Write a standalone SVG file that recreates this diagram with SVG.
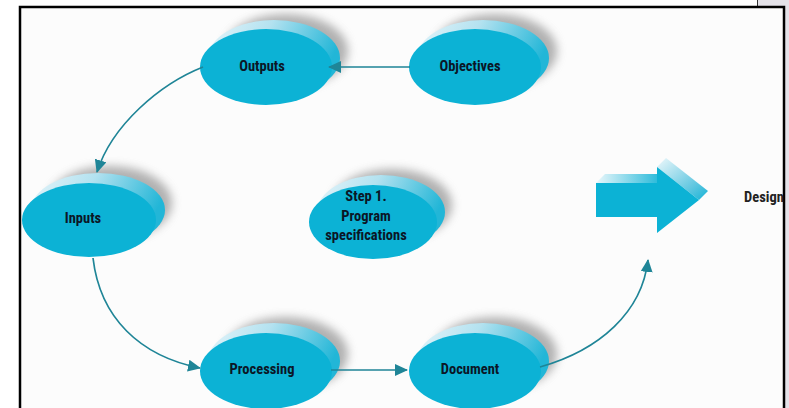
<svg xmlns="http://www.w3.org/2000/svg" width="789" height="408" viewBox="0 0 789 408">
<defs>
<style>
.front{fill:#0cb2d5;}
.back{fill:url(#backGrad);}
.shadow{fill:#7f7f7f;opacity:0.6;filter:url(#blur);}
.lbl{font-family:"Liberation Sans Narrow","Roboto Condensed","Liberation Sans",Arial,sans-serif;font-weight:bold;font-size:14.5px;fill:#0b1626;text-anchor:middle;dominant-baseline:central;}
.conn{fill:none;stroke:#1f8597;stroke-width:1.7;marker-end:url(#ah);}
.frame{stroke:#000;stroke-width:2.5;fill:none;}
</style>
<linearGradient id="backGrad" x1="0" y1="0" x2="1" y2="0.3">
<stop offset="0" stop-color="#e6f5fa"/>
<stop offset="0.45" stop-color="#b4e2f0"/>
<stop offset="1" stop-color="#22b6d7"/>
</linearGradient>
<linearGradient id="shaftGrad" x1="0" y1="0" x2="1" y2="0">
<stop offset="0" stop-color="#eaf7fb"/>
<stop offset="1" stop-color="#14b3d6"/>
</linearGradient>
<linearGradient id="headGrad" x1="0" y1="0" x2="1" y2="1">
<stop offset="0" stop-color="#eef8fb"/>
<stop offset="0.7" stop-color="#5ec6e0"/>
<stop offset="1" stop-color="#14b3d6"/>
</linearGradient>
<filter id="blur" x="-30%" y="-30%" width="160%" height="160%">
<feGaussianBlur stdDeviation="5"/>
</filter>
<marker id="ah" markerUnits="userSpaceOnUse" markerWidth="14" markerHeight="12" refX="12" refY="6" orient="auto">
<path d="M0,0 L13,6 L0,12 z" fill="#1f8597"/>
</marker>
</defs>

<rect x="0" y="0" width="789" height="408" fill="#ffffff"/>
<rect x="20" y="7" width="764" height="401" fill="#fcfcfc"/>
<rect x="757" y="0" width="32" height="7" fill="#e4e2e8"/>
<rect x="785" y="7" width="4" height="401" fill="#e4e2e8"/>
<line x1="757.5" y1="0" x2="757.5" y2="7" stroke="#333" stroke-width="1"/>
<path class="frame" d="M20,408 V7 H784 V408"/>

<g id="outputs">
<ellipse class="shadow" cx="286" cy="51" rx="62" ry="37"/>
<ellipse class="back" cx="274" cy="58" rx="66" ry="38"/>
<ellipse class="front" cx="266" cy="67" rx="66" ry="38"/>
<text class="lbl" x="262" y="66">Outputs</text>
</g>

<g id="objectives">
<ellipse class="shadow" cx="495" cy="51" rx="62" ry="37"/>
<ellipse class="back" cx="483" cy="58" rx="66" ry="38"/>
<ellipse class="front" cx="475" cy="67" rx="66" ry="38"/>
<text class="lbl" x="470" y="66">Objectives</text>
</g>

<g id="inputs">
<ellipse class="shadow" cx="110" cy="203" rx="62" ry="37"/>
<ellipse class="back" cx="98" cy="210" rx="67" ry="37"/>
<ellipse class="front" cx="89" cy="220" rx="67" ry="37"/>
<text class="lbl" x="83" y="218">Inputs</text>
</g>

<g id="step1">
<ellipse class="shadow" cx="392" cy="205" rx="60" ry="36"/>
<ellipse class="back" cx="381" cy="212" rx="64" ry="37"/>
<ellipse class="front" cx="373" cy="222" rx="64" ry="37"/>
<text class="lbl" x="366" y="196">Step 1.</text>
<text class="lbl" x="366" y="216">Program</text>
<text class="lbl" x="366" y="235">specifications</text>
</g>

<g id="processing">
<ellipse class="shadow" cx="286" cy="354" rx="62" ry="37"/>
<ellipse class="back" cx="274" cy="361" rx="66" ry="38"/>
<ellipse class="front" cx="266" cy="371" rx="66" ry="38"/>
<text class="lbl" x="262" y="369">Processing</text>
</g>

<g id="document">
<ellipse class="shadow" cx="495" cy="354" rx="62" ry="37"/>
<ellipse class="back" cx="483" cy="361" rx="66" ry="38"/>
<ellipse class="front" cx="475" cy="371" rx="66" ry="38"/>
<text class="lbl" x="470" y="369">Document</text>
</g>

<g id="design-arrow">
<polygon points="596,183 605,174 666,174 657,183" fill="url(#shaftGrad)"/>
<polygon points="657,167 666,158 708,191 699,200" fill="url(#headGrad)"/>
<polygon points="596,183 657,183 657,167 699,200 657,233 657,217 596,217" fill="#0cb2d5"/>
</g>

<g id="design">
<text class="lbl" x="764" y="197" style="fill:#222">Design</text>
</g>

<g id="connectors">
<path class="conn" d="M410,67 L329,67"/>
<path class="conn" d="M203,67 C160,84 112,125 97,172"/>
<path class="conn" d="M93,258 C100,318 140,356 200,368"/>
<path class="conn" d="M331,370 L407,370"/>
<path class="conn" d="M540,367 C600,350 642,312 648,260"/>
</g>
</svg>
